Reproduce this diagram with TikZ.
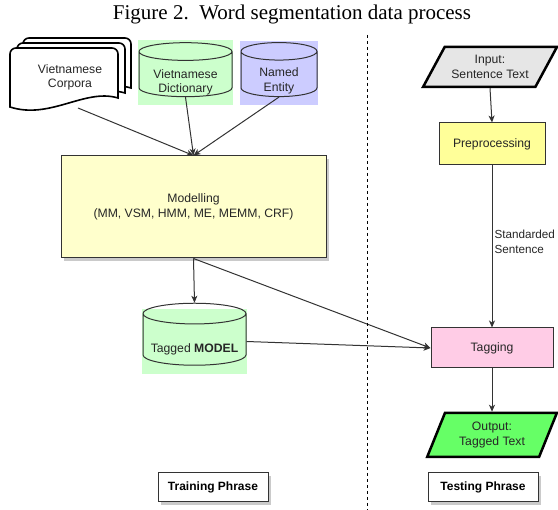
\documentclass[tikz,border=0pt]{standalone}
\usepackage{fontspec}
\setmainfont{Liberation Serif}
\setsansfont{Liberation Sans}
\usetikzlibrary{shapes, arrows.meta, positioning, calc, shadows}

\definecolor{modelfill}{HTML}{FFFFCC}
\definecolor{prepfill}{HTML}{FFFF99}
\definecolor{tagfill}{HTML}{FFCCE6}
\definecolor{dictfill}{HTML}{CCFFCC}
\definecolor{nefill}{HTML}{CCCCFF}
\definecolor{inpfill}{HTML}{E6E6E6}
\definecolor{outfill}{HTML}{66FF66}
\definecolor{linecol}{HTML}{333333}

\tikzset{
  txt/.style={align=center, text=black!85},
  procbox/.style={draw=linecol, line width=1pt, align=center, text=black!85},
  shadowed/.style={drop shadow={shadow xshift=3pt, shadow yshift=-3pt, fill=black!35, opacity=0.6}},
  db/.style={cylinder, shape border rotate=90, aspect=#1, draw=linecol, line width=1pt},
  iobox/.style 2 args={trapezium, trapezium stretches=true, trapezium left angle=#1, trapezium right angle=#2, draw=black, line width=2.5pt, align=center, text=black!85},
  phasebox/.style={draw=linecol, line width=1pt, fill=white, minimum width=110, minimum height=29, font={\sffamily\bfseries\fontsize{12}{14}\selectfont}, shadowed},
  flow/.style={draw=linecol, line width=1pt, -{Stealth[length=7pt, width=6pt, inset=2pt]}},
  sepline/.style={draw=black, line width=1pt, dash pattern=on 3pt off 3pt},
  docline/.style={draw=black, line width=1.6pt, fill=white}
}

% une page du corpus (coin haut gauche en #1,#2)
\newcommand\corpuspage[2]{%
  \draw[docline, shift={(#1,#2)}] (0,59) [rounded corners=6pt] -- (0,0) -- (108,0) -- (108,40) [sharp corners] -- (108,50)
    .. controls (75,40) and (40,72) .. (0,59) -- cycle;}

\begin{document}
\begin{tikzpicture}[x=1pt, y=-1pt, font={\sffamily\fontsize{12.2}{14.5}\selectfont}]
  \useasboundingbox (0,0) rectangle (558,510);

  % titre de la figure
  \node[anchor=base, font={\rmfamily\fontsize{21}{24}\selectfont}] (title) at (292,20) {Figure 2.\ \ Word segmentation data process};

  % sources
  \corpuspage{23}{38}
  \corpuspage{17}{43}
  \corpuspage{10}{48}
  \node[txt] (corp) at (70,77.5) {Vietnamese\\Corpora};
  \coordinate (corpfoot) at (78,108);

  \fill[dictfill] (138,40) rectangle (233,105);
  \node[db=0.25, minimum width=93, minimum height=54] (dict) at (185.5,76) {\phantom{Vietnamese}};
  \node[txt] (dicttxt) at (185.5,82.5) {Vietnamese\\Dictionary};
  \fill[nefill] (240,41) rectangle (318,105);
  \node[db=0.38, minimum width=76, minimum height=54] (ne) at (279,76) {\phantom{Named}};
  \node[txt] (netxt) at (279,81) {Named\\Entity};

  % apprentissage
  \node[procbox, fill=modelfill, shadowed, minimum width=265, minimum height=102] (model) at (193.5,207)
    {Modelling\\(MM, VSM, HMM, ME, MEMM, CRF)};
  \fill[dictfill] (142,309) rectangle (247,374);
  \node[db=0.22, minimum width=103, minimum height=62] (tmodel) at (194.5,341.5) {\phantom{Tagged \textbf{MODEL}}};
  \node[txt] (tmodeltxt) at (194.5,349) {Tagged \textbf{MODEL}};

  % test
  \node[iobox={56}{124}, fill=inpfill, minimum width=134, minimum height=40] (inp) at (490,67) {Input:\\Sentence Text};
  \node[procbox, fill=prepfill, minimum width=106, minimum height=42] (prep) at (492,144) {Preprocessing};
  \node[procbox, fill=tagfill, minimum width=122, minimum height=40] (tag) at (492,348) {Tagging};
  \node[iobox={67}{113}, fill=outfill, minimum width=130, minimum height=44] (out) at (492,435) {Output:\\Tagged Text};

  % connecteurs
  \draw[flow] (corpfoot) -- (model.north);
  \draw[flow] (dict.south) -- (model.north);
  \draw[flow] (ne.south) -- (model.north);
  \draw[flow] (model.south) -- (tmodel.north);
  \draw[flow] (model.south) -- (tag.west);
  \draw[flow] (tmodel.east) -- (tag.west);
  \draw[flow] (inp.south) -- (prep.north);
  \draw[flow] (prep) -- node[pos=0.47, right, inner xsep=2pt, align=left, text=black!85,
    font={\sffamily\fontsize{11.7}{14.5}\selectfont}] (stdlbl) {Standarded\\Sentence} (tag);
  \draw[flow] (tag) -- (out);

  % separation des deux phases
  \coordinate (septop) at (367,35);
  \coordinate (sepbot) at (367,510);
  \draw[sepline] (septop) -- (sepbot);

  \node[phasebox] (train) at (213,487.5) {Training Phrase};
  \node[phasebox] (test) at (483,487.5) {Testing Phrase};
\end{tikzpicture}
\end{document}
